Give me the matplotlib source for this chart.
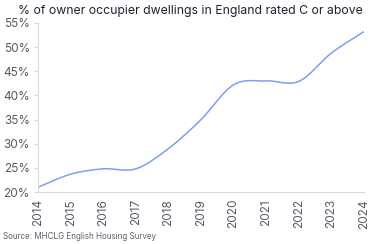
import numpy as np
import matplotlib
matplotlib.use("Agg")
import matplotlib.pyplot as plt
from matplotlib.path import Path
from matplotlib.patches import PathPatch

# Data
years = [2014, 2015, 2016, 2017, 2018, 2019, 2020, 2021, 2022, 2023, 2024]
share_c_or_above = [21.0, 23.7, 24.8, 24.8, 29.0, 35.0, 42.2, 43.0, 42.9, 48.75, 53.2]
y_ticks = [20, 25, 30, 35, 40, 45, 50, 55]

plt.rcParams['font.family'] = ['Inter', 'DejaVu Sans']


def smooth_path(x, y):
    """Catmull-Rom style bezier through the data points (rendering only)."""
    x = np.asarray(x, float)
    y = np.asarray(y, float)
    verts = [(x[0], y[0])]
    codes = [Path.MOVETO]
    n = len(x)
    for i in range(n - 1):
        x0, y0 = (x[i - 1], y[i - 1]) if i > 0 else (x[i], y[i])
        x3, y3 = (x[i + 2], y[i + 2]) if i + 2 < n else (x[i + 1], y[i + 1])
        t = 1 / 6
        c1 = (x[i] + (x[i + 1] - x0) * t, y[i] + (y[i + 1] - y0) * t)
        c2 = (x[i + 1] - (x3 - x[i]) * t, y[i + 1] - (y3 - y[i]) * t)
        verts += [c1, c2, (x[i + 1], y[i + 1])]
        codes += [Path.CURVE4] * 3
    return Path(verts, codes)


fig = plt.figure(figsize=(3.74, 2.44), dpi=100)
ax = fig.add_axes([0.102, 0.213, 0.871, 0.693])

ax.add_patch(PathPatch(smooth_path(years, share_c_or_above), facecolor='none',
                       edgecolor='#7f9dfa', linewidth=1.1))

ax.set_xlim(2014, 2024)
ax.set_ylim(20, 55)
ax.set_xticks(years)
ax.set_xticklabels([str(y) for y in years], rotation=90)
ax.set_yticks(y_ticks)
ax.set_yticklabels([f'{v}%' for v in y_ticks])
ax.tick_params(labelsize=8.5, labelcolor='#555a66', color='#d9d9d9', width=0.8)
ax.tick_params(axis='x', length=0, pad=5)
ax.tick_params(axis='y', length=3, pad=3)

for s in ['top', 'right']:
    ax.spines[s].set_visible(False)
for s in ['left', 'bottom']:
    ax.spines[s].set_color('#d9d9d9')
    ax.spines[s].set_linewidth(0.8)

fig.text(0.51, 0.955, '% of owner occupier dwellings in England rated C or above',
         ha='center', va='center', fontsize=8.8, color='#1d2333')
fig.text(0.008, 0.03, 'Source: MHCLG English Housing Survey',
         ha='left', va='center', fontsize=5.8, color='#5a6270')

fig.savefig('out.png', dpi=100)
